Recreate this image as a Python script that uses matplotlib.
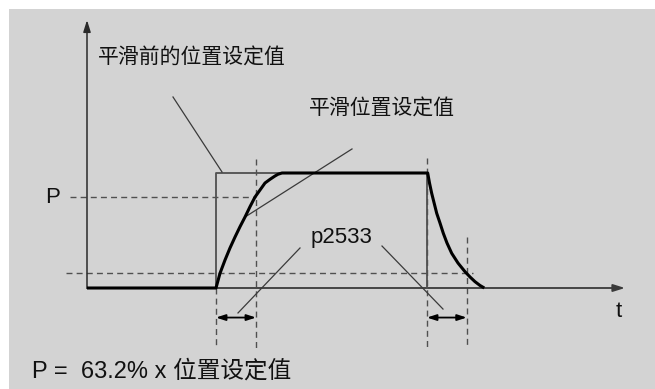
import matplotlib
matplotlib.use("Agg")
import matplotlib.pyplot as plt
from matplotlib.patches import Rectangle

# ---------------- data (time units, normalised position) ----------------
# setpoint before smoothing (step up, hold, step down)
raw_t = [0.0, 12.9, 12.9, 34.0, 34.0]
raw_v = [0.0, 0.0, 1.0, 1.0, 0.0]

# smoothed setpoint
smooth_t = [0.0, 12.9, 13.3, 13.8, 14.3, 14.8, 15.3, 15.8, 16.3, 16.8, 17.3,
            17.8, 18.3, 18.8, 19.1, 19.5,
            34.07, 34.25, 34.47, 34.97, 35.3, 35.63, 36.0, 36.47, 37.1, 37.8,
            38.3, 38.8, 39.3, 39.73]
smooth_v = [0.0, 0.0, 0.128, 0.243, 0.348, 0.443, 0.533, 0.617, 0.707, 0.791,
            0.852, 0.913, 0.945, 0.974, 0.989, 1.0,
            1.0, 0.913, 0.823, 0.65, 0.565, 0.476, 0.391, 0.302, 0.217, 0.142,
            0.096, 0.055, 0.022, 0.0]

# reference levels / times
P_level = 0.791
low_level = 0.133
t_rise, t_tau1 = 12.9, 16.9
t_fall, t_tau2 = 34.0, 37.97

label_raw = "平滑前的位置设定值"
label_smooth = "平滑位置设定值"
label_param = "p2533"
label_P = "P"
label_t = "t"
label_formula = "P =  63.2% x 位置设定值"

# ---------------- figure ----------------
W, H = 655, 389
fig = plt.figure(figsize=(W / 100, H / 100), dpi=100, facecolor="white")
ax = fig.add_axes([0, 0, 1, 1])
ax.set_facecolor("none")
# pixel mapping: x = 87 + 10 t ; y = 288 - 115 v
ax.set_xlim(-8.7, (W - 87) / 10)
ax.set_ylim((288 - H) / 115, 288 / 115)
ax.axis("off")
ax.add_patch(Rectangle((9 / W, 0), 1, (H - 9) / H, transform=fig.transFigure,
                       facecolor="#d3d3d3", edgecolor="none", zorder=0, clip_on=False))

fam = ["Liberation Sans", "Noto Sans CJK SC"]
dash_kw = dict(color="#505050", lw=1.0, dashes=(4.3, 3.0))
thin = "#505050"

# dashed guides
ax.plot([-1.7, t_tau1], [P_level, P_level], **dash_kw, zorder=1)
ax.plot([-2.1, 38.6], [low_level, low_level], **dash_kw, zorder=1)
ax.plot([t_tau1, t_tau1], [1.12, -0.52], **dash_kw, zorder=1)
ax.plot([t_rise, t_rise], [0, -0.52], **dash_kw, zorder=1)
ax.plot([t_fall, t_fall], [1.13, -0.52], **dash_kw, zorder=1)
ax.plot([t_tau2, t_tau2], [0.446, -0.52], **dash_kw, zorder=1)

# axes with arrows
ax.annotate("", xy=(53.8, 0), xytext=(0, 0),
            arrowprops=dict(arrowstyle="-|>,head_length=0.7,head_width=0.22",
                            color="#3a3a3a", lw=1.3, shrinkA=0, shrinkB=0), zorder=2)
ax.annotate("", xy=(0, 2.33), xytext=(0, 0),
            arrowprops=dict(arrowstyle="-|>,head_length=0.7,head_width=0.22",
                            color="#2a2a2a", lw=1.1, shrinkA=0, shrinkB=0), zorder=2)

# raw setpoint
ax.plot(raw_t, raw_v, color=thin, lw=1.3, zorder=3)
# smoothed setpoint
ax.plot(smooth_t, smooth_v, color="black", lw=2.2, solid_capstyle="butt",
        solid_joinstyle="round", zorder=4)

# leader lines
lead = dict(color="#3a3a3a", lw=0.9, zorder=3)
ax.plot([8.6, 13.5], [1.661, 1.009], **lead)
ax.plot([15.8, 26.5], [0.617, 1.209], **lead)
ax.plot([21.3, 15.1], [0.348, -0.217], **lead)
ax.plot([29.5, 35.6], [0.365, -0.183], **lead)

# double arrows
for a, b in [(t_rise, t_tau1), (t_fall, t_tau2)]:
    ax.annotate("", xy=(b, -0.257), xytext=(a, -0.257),
                arrowprops=dict(arrowstyle="<|-|>,head_length=0.55,head_width=0.18",
                                color="black", lw=1.3, shrinkA=0, shrinkB=0), zorder=5)

# texts
tc = "#111111"
ax.text(1.1, 2.0, label_raw, fontsize=15, family=fam, color=tc, va="center", ha="left",
        fontweight="medium")
ax.text(22.2, 1.557, label_smooth, fontsize=15, family=fam, color=tc, va="center", ha="left",
        fontweight="medium")
ax.text(25.5, 0.391, label_param, fontsize=16, family=fam, color=tc, va="baseline", ha="center")
ax.text(-4.2, 0.739, label_P, fontsize=16, family=fam, color=tc, va="baseline", ha="left")
ax.text(52.9, -0.252, label_t, fontsize=16, family=fam, color=tc, va="baseline", ha="left")
ax.text(-5.5, -0.783, label_formula, fontsize=17, family=fam, color=tc, va="baseline", ha="left",
        fontweight="medium")

fig.savefig("out.png", dpi=100, facecolor="white")
